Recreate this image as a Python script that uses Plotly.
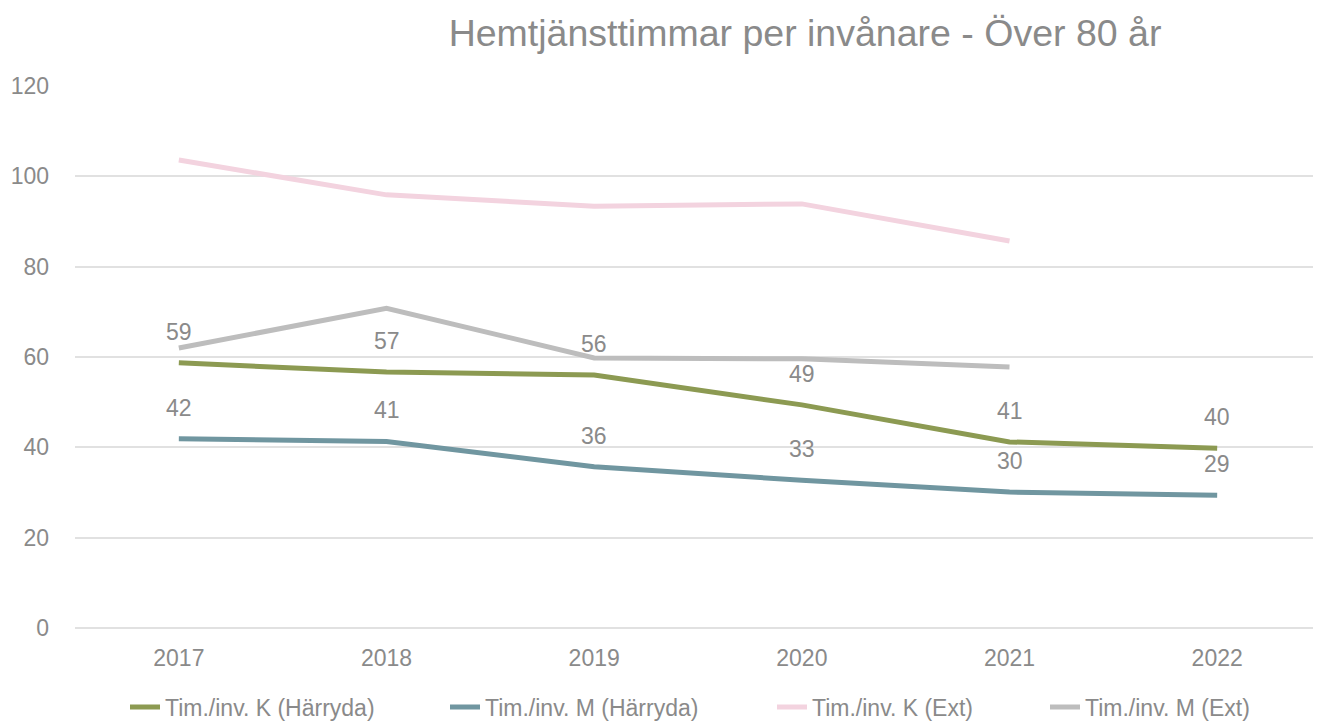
import plotly.graph_objects as go

years = ["2017", "2018", "2019", "2020", "2021", "2022"]
k_harryda = [58.7, 56.7, 56.0, 49.4, 41.2, 39.8]
m_harryda = [41.9, 41.3, 35.7, 32.7, 30.1, 29.4]
k_ext = [103.6, 95.9, 93.4, 93.9, 85.7]
m_ext = [62.0, 70.8, 59.8, 59.6, 57.8]

series = [
    ("Tim./inv. K (Härryda)", years, k_harryda, "#8C9A52", True),
    ("Tim./inv. M (Härryda)", years, m_harryda, "#7096A0", True),
    ("Tim./inv. K (Ext)", years[:5], k_ext, "#F3D3DF", False),
    ("Tim./inv. M (Ext)", years[:5], m_ext, "#BDBDBD", False),
]
PLOT_W = 1246
legend_px = [50, 370, 697, 970]
legend_x = [p / PLOT_W for p in legend_px]

FONT = "Liberation Sans, Arial, sans-serif"
TXT = "#8A8A8A"

fig = go.Figure()
annotations = []
legends = {}
for i, (name, xs, ys, color, labeled) in enumerate(series):
    lg = "legend" if i == 0 else f"legend{i+1}"
    fig.add_trace(go.Scatter(x=xs, y=ys, name=name, mode="lines", legend=lg,
                             line=dict(color=color, width=5)))
    legends[lg] = dict(orientation="h", x=legend_x[i], xanchor="left", y=-0.1458,
                       yanchor="middle", bgcolor="rgba(0,0,0,0)",
                       font=dict(size=23, color=TXT, family=FONT))
    if labeled:
        for j, y in enumerate(ys):
            annotations.append(dict(x=j, y=y, xref="x", yref="y", text=str(int(round(y))),
                                    showarrow=False, yshift=31,
                                    font=dict(size=23, color=TXT, family=FONT)))

fig.update_layout(
    width=1313, height=713,
    margin=dict(l=67, r=0, t=78, b=93, autoexpand=False),
    paper_bgcolor="white", plot_bgcolor="white",
    font=dict(family=FONT, color=TXT, size=23),
    title=dict(text="Hemtjänsttimmar per invånare - Över 80 år", x=797/1313, xref="container",
               xanchor="center", y=1-25/713, yref="container", yanchor="middle",
               font=dict(size=37.5, color=TXT, family=FONT)),
    showlegend=True,
    annotations=annotations,
    **legends,
)
fig.update_xaxes(type="category", range=[-0.5, 5.5], showgrid=False, showline=False,
                 zeroline=False, ticks="", ticklabelstandoff=14,
                 tickfont=dict(size=23, color=TXT))
fig.update_yaxes(range=[0, 120], dtick=20, showgrid=True, gridcolor="#E1E1E1", gridwidth=1.5,
                 zeroline=True, zerolinecolor="#E1E1E1", zerolinewidth=1.5, showline=False,
                 ticks="", ticklabelstandoff=25, tickfont=dict(size=23, color=TXT))

fig.write_html("out.html")
